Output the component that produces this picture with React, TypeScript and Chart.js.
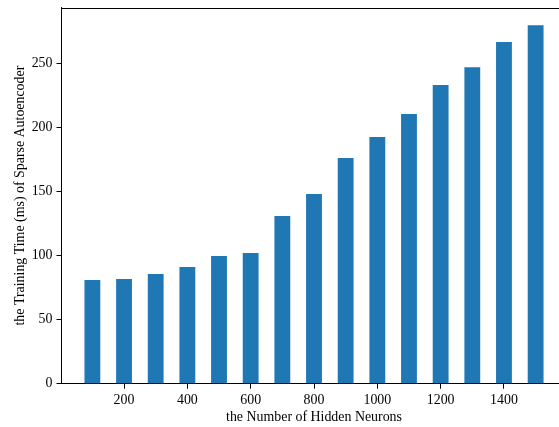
import React, { useEffect, useRef } from 'react';
import { Chart, registerables } from 'chart.js';

Chart.register(...registerables);

const neurons = [100, 200, 300, 400, 500, 600, 700, 800, 900, 1000, 1100, 1200, 1300, 1400, 1500];
const trainingTimeMs = [81.0, 81.8, 85.7, 91.2, 99.8, 102.1, 131.0, 148.2, 176.3, 192.7, 210.7, 233.4, 247.4, 267.0, 280.2];
const xTickValues = [200, 400, 600, 800, 1000, 1200, 1400];
const yTickValues = [0, 50, 100, 150, 200, 250];

const X_MIN = 2.5;
const X_MAX = 1597.5;
const Y_MAX = 294;

const FONT = { family: '"Liberation Serif", "Times New Roman", serif', size: 13.9 };

const CANVAS_W = 580;
const CANVAS_H = 427;

const framePlugin = {
  id: 'frame',
  afterDraw(chart: any) {
    const { ctx, chartArea } = chart;
    ctx.save();
    ctx.strokeStyle = '#000';
    ctx.lineWidth = 1;
    ctx.beginPath();
    const y = Math.round(chartArea.top) + 0.5;
    ctx.moveTo(chartArea.left, y);
    ctx.lineTo(chartArea.right, y);
    const x = Math.round(chartArea.right) + 0.5;
    ctx.moveTo(x, chartArea.top);
    ctx.lineTo(x, chartArea.bottom);
    ctx.stroke();
    ctx.restore();
  },
};

const zeroPadding = (scale: any) => {
  scale.paddingTop = 0;
  scale.paddingBottom = 0;
  scale.paddingLeft = 0;
  scale.paddingRight = 0;
};

export default function App() {
  const canvasRef = useRef<HTMLCanvasElement | null>(null);

  useEffect(() => {
    const canvas = canvasRef.current;
    if (!canvas) return;
    const chart = new Chart(canvas, {
      type: 'bar',
      data: {
        datasets: [
          {
            data: neurons.map((n, i) => ({ x: n, y: trainingTimeMs[i] })),
            backgroundColor: '#1f77b4',
            borderWidth: 0,
            categoryPercentage: 1,
            barPercentage: 0.5,
          },
        ],
      },
      options: {
        responsive: false,
        animation: false,
        devicePixelRatio: 1,
        layout: { padding: { top: 7.5, right: CANVAS_W - 566.5, left: 0, bottom: 0 } },
        plugins: { legend: { display: false }, tooltip: { enabled: false } },
        scales: {
          x: {
            type: 'linear',
            min: X_MIN,
            max: X_MAX,
            offset: false,
            grid: { display: true, drawOnChartArea: false, drawTicks: true, tickLength: 5, color: '#000', tickColor: '#000', offset: false },
            border: { display: true, color: '#000', width: 1 },
            ticks: {
              font: FONT,
              color: '#000',
              padding: 3,
              maxRotation: 0,
              autoSkip: false,
              callback: (v: any) => String(v),
            },
            afterBuildTicks: (scale: any) => {
              scale.ticks = xTickValues.map((v) => ({ value: v }));
            },
            afterFit: (scale: any) => {
              scale.height = CANVAS_H - 383.7;
              zeroPadding(scale);
            },
            title: {
              display: true,
              text: 'the Number of Hidden Neurons',
              font: FONT,
              color: '#000',
              padding: { top: 0, bottom: 1.5 },
            },
          },
          y: {
            type: 'linear',
            min: 0,
            max: Y_MAX,
            grid: { display: true, drawOnChartArea: false, drawTicks: true, tickLength: 5, color: '#000', tickColor: '#000' },
            border: { display: true, color: '#000', width: 1 },
            ticks: { font: FONT, color: '#000', padding: 4, callback: (v: any) => String(v) },
            afterBuildTicks: (scale: any) => {
              scale.ticks = yTickValues.map((v) => ({ value: v }));
            },
            afterFit: (scale: any) => {
              scale.width = 61.5;
              zeroPadding(scale);
            },
            title: {
              display: true,
              text: 'the Training Time (ms) of Sparse Autoencoder',
              font: FONT,
              color: '#000',
              padding: { top: 12, bottom: 0 },
            },
          },
        },
      } as any,
      plugins: [framePlugin],
    });
    return () => chart.destroy();
  }, []);

  return (
    <div
      style={{
        position: 'fixed',
        left: 0,
        top: 0,
        width: 559,
        height: 427,
        overflow: 'hidden',
        background: '#fff',
      }}
    >
      <canvas ref={canvasRef} width={CANVAS_W} height={CANVAS_H} style={{ display: 'block' }} />
    </div>
  );
}
